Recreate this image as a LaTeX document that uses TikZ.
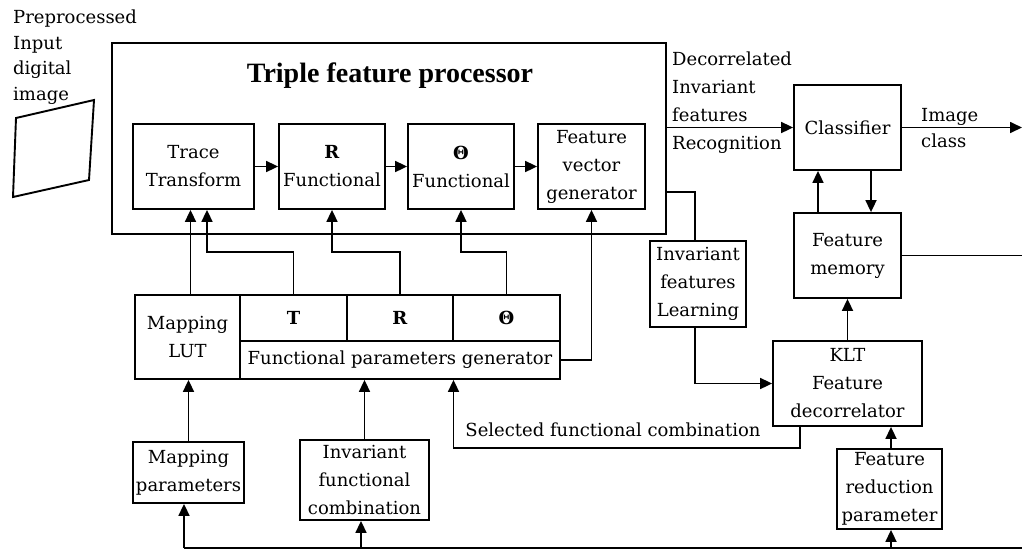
\documentclass[tikz,border=0pt]{standalone}
\usepackage{fontspec}
\setmainfont{DejaVu Serif}
\newfontfamily\titlefont{Liberation Serif}
\usetikzlibrary{arrows.meta}
\newcommand\dgfont{\fontsize{18}{28}\selectfont}
\begin{document}
\begin{tikzpicture}[x=1pt,y=-1pt,
  box/.style={draw, line width=1.8pt, inner sep=0pt, align=center, font=\dgfont},
  wire/.style={line width=1.7pt},
  arr/.style={line width=1.7pt, -{Triangle[length=12pt,width=11pt]}},
  lbl/.style={inner sep=0pt, font=\dgfont}]
\useasboundingbox (0,0) rectangle (1022,550);
% input image
\draw[line width=1.9pt] (16,118) -- (94,100) -- (89,180) -- (13,197) -- cycle;
\node[lbl, anchor=north west, align=left, font=\fontsize{18}{25.5}\selectfont] (pre) at (13,10) {Preprocessed\\Input\\digital\\image};
% triple feature processor
\node[box, minimum width=554pt, minimum height=191pt] (tfp) at (389,138.5) {};
\node[inner sep=0pt, anchor=base, font=\titlefont\bfseries\fontsize{28}{32}\selectfont] (title) at (390,82) {Triple feature processor};
\node[box, minimum width=121pt, minimum height=85pt] (trace) at (193.5,166.5) {Trace\\Transform};
\node[box, minimum width=106pt, minimum height=85pt] (rfun) at (332,166.5) {\textbf{R}\\Functional};
\node[box, minimum width=106pt, minimum height=85pt] (tfun) at (461,166.5) {\textbf{Θ}\\Functional};
\node[box, minimum width=107pt, minimum height=85pt] (fvg) at (591.5,166.5) {Feature\\vector\\generator};
% parameter generator block
\node[box, minimum width=105pt, minimum height=84pt] (lut) at (187.5,337) {Mapping\\LUT};
\node[box, minimum width=107pt, minimum height=46pt] (tbox) at (293.5,318) {\textbf{T}};
\node[box, minimum width=106pt, minimum height=46pt] (rbox) at (400,318) {\textbf{R}};
\node[box, minimum width=107pt, minimum height=46pt] (thbox) at (506.5,318) {\textbf{Θ}};
\node[box, minimum width=320pt, minimum height=38pt] (fpg) at (400,360) {Functional parameters generator};
% lower inputs
\node[box, minimum width=111pt, minimum height=61pt] (mp) at (188.5,472.5) {Mapping\\parameters};
\node[box, minimum width=129pt, minimum height=80pt] (ifc) at (364.5,480) {Invariant\\functional\\combination};
% right part
\node[box, minimum width=96pt, minimum height=86pt] (ifl) at (698,284) {Invariant\\features\\Learning};
\node[box, minimum width=149pt, minimum height=85pt] (klt) at (847.5,383.5) {KLT\\Feature\\decorrelator};
\node[box, minimum width=105pt, minimum height=80pt] (frp) at (889.5,489) {Feature\\reduction\\parameter};
\node[box, minimum width=107pt, minimum height=85pt] (fm) at (847.5,255.5) {Feature\\memory};
\node[box, minimum width=107pt, minimum height=85pt] (cls) at (847.5,127.5) {Classifier};
% labels
\node[lbl, anchor=south west, align=left, font=\fontsize{18}{28}\selectfont] (dec) at (672,122) {Decorrelated\\Invariant\\features};
\node[lbl, anchor=base west] (rec) at (672,149) {Recognition};
\node[lbl, anchor=north west, align=left, font=\fontsize{18}{25.5}\selectfont] (icl) at (921,108.6) {Image\\class};
\node[lbl] (sfc) at (613,430) {Selected functional combination};
% helper coordinates
\coordinate (hj) at (0,252);
\coordinate (outR) at (1022,127.5);
\coordinate (bl) at (184,548);
\coordinate (br) at (1022,548);
\coordinate (tap) at (0,192);
% processor chain
\draw[arr] (trace.east) -- (rfun.west);
\draw[arr] (rfun.east) -- (tfun.west);
\draw[arr] (tfun.east) -- (fvg.west);
% generator to functionals
\draw[arr] ([xshift=3pt]lut.north) -- ([xshift=3pt]lut.north |- trace.south);
\draw[arr] (tbox.north) -- (tbox.north |- hj) -| ([xshift=13.5pt]trace.south);
\draw[arr] (rbox.north) -- (rbox.north |- hj) -| (rfun.south);
\draw[arr] (thbox.north) -- (thbox.north |- hj) -| (tfun.south);
\draw[arr] (fpg.east) -| (fvg.south);
% classifier
\draw[arr] (tfp.east |- cls.west) -- (cls.west);
\draw[arr] (cls.east) -- (outR);
\draw[arr] ([xshift=-29.5pt]fm.north) -- ([xshift=-29.5pt]cls.south);
\draw[arr] ([xshift=23.5pt]cls.south) -- ([xshift=23.5pt]fm.north);
\draw[wire] (fm.east) -- (fm.east -| outR);
\draw[arr] (klt.north) -- (fm.south);
% learning path
\draw[wire] (tfp.east |- tap) -| ([xshift=-3pt]ifl.north);
\draw[arr] ([xshift=-3pt]ifl.south) |- (klt.west);
\draw[arr] ([xshift=-47.5pt]klt.south) -- ++(0,21) -| ([xshift=53.5pt]fpg.south);
\draw[arr] ([xshift=1.5pt]frp.north) -- ([xshift=1.5pt]frp.north |- klt.south);
% bottom bus
\draw[wire] (bl) -- (br);
\draw[arr] (bl) -- (bl |- mp.south);
\draw[arr] ([xshift=-3.5pt]ifc.south |- bl) -- ([xshift=-3.5pt]ifc.south);
\draw[arr] ([xshift=1.5pt]frp.south |- bl) -- ([xshift=1.5pt]frp.south);
\draw[arr] (mp.north) -- (mp.north |- lut.south);
\draw[arr] (ifc.north) -- (ifc.north |- fpg.south);
\end{tikzpicture}
\end{document}
